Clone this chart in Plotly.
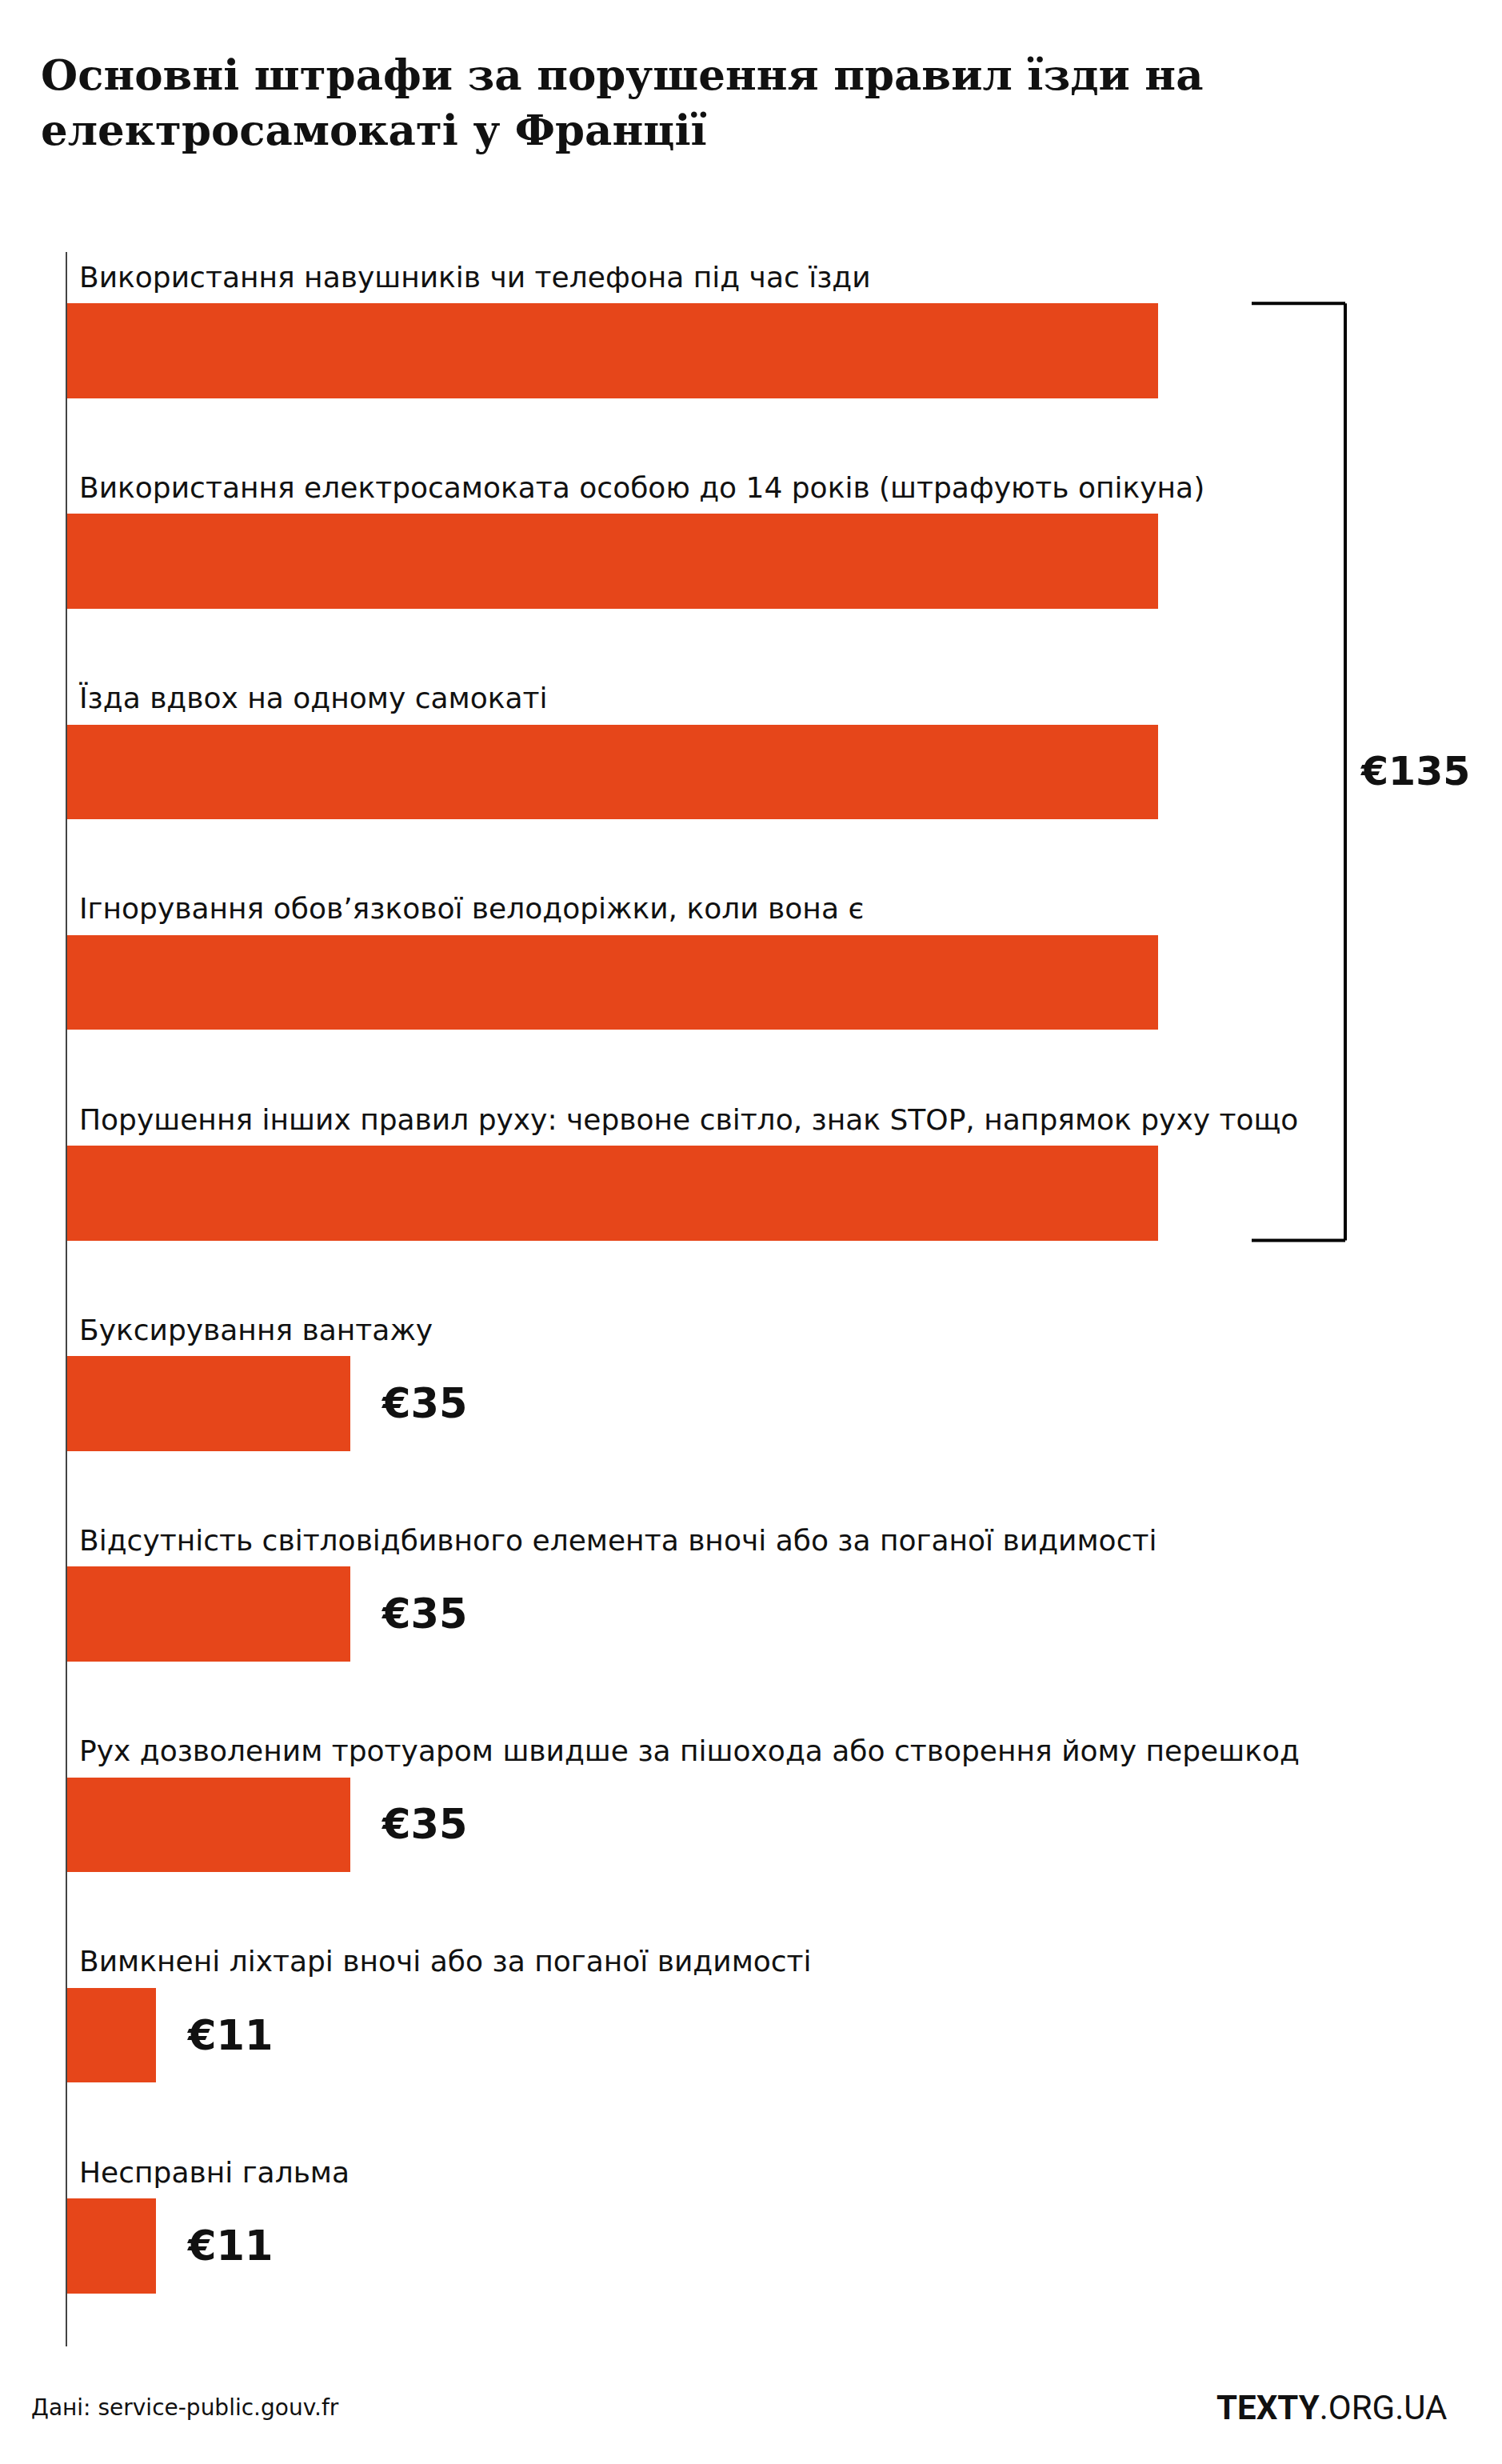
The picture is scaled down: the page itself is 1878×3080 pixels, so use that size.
import plotly.graph_objects as go

# ---------------- data ----------------
categories = [
    "Використання навушників чи телефона під час їзди",
    "Використання електросамоката особою до 14 років (штрафують опікуна)",
    "Їзда вдвох на одному самокаті",
    "Ігнорування обов’язкової велодоріжки, коли вона є",
    "Порушення інших правил руху: червоне світло, знак STOP, напрямок руху тощо",
    "Буксирування вантажу",
    "Відсутність світловідбивного елемента вночі або за поганої видимості",
    "Рух дозволеним тротуаром швидше за пішохода або створення йому перешкод",
    "Вимкнені ліхтарі вночі або за поганої видимості",
    "Несправні гальма",
]
fines = [135, 135, 135, 135, 135, 35, 35, 35, 11, 11]
group_label = "€135"          # bracketed group (first five rows)
group_rows = [0, 1, 2, 3, 4]
single_labels = ["", "", "", "", "", "€35", "€35", "€35", "€11", "€11"]

title_text = "<b>Основні штрафи за порушення правил їзди на<br>електросамокаті у Франції</b>"
source_text = "Дані: service-public.gouv.fr"

# ---------------- style ----------------
W, H = 1878, 3080
BAR_COLOR = "#E6461A"
TEXT_COLOR = "#111111"
LABEL_FONT = "DejaVu Sans"
VALUE_FONT = "DejaVu Sans"
BAR_WIDTH = 0.45
M_L, M_R, M_T, M_B = 84, 0, 315, 147
PX_PER_MAX = 1364  # pixel length of the longest bar

plot_w = W - M_L - M_R
plot_h = H - M_T - M_B
max_val = max(fines)
x_max = max_val * plot_w / PX_PER_MAX
n = len(categories)
ys = list(range(n))

fig = go.Figure()
fig.add_trace(go.Bar(
    x=fines, y=ys, orientation="h", width=BAR_WIDTH,
    marker=dict(color=BAR_COLOR, line=dict(width=0)),
    hoverinfo="skip", showlegend=False,
))

annotations = []
for i, (cat, v, lab) in enumerate(zip(categories, fines, single_labels)):
    annotations.append(dict(
        x=0, y=i - BAR_WIDTH / 2, xref="x", yref="y",
        text=cat, showarrow=False, xanchor="left", yanchor="middle",
        xshift=13, yshift=33,
        font=dict(family=LABEL_FONT, size=36, color=TEXT_COLOR),
    ))
    if lab:
        annotations.append(dict(
            x=v, y=i, xref="x", yref="y", text="<b>" + lab + "</b>",
            showarrow=False, xanchor="left", yanchor="middle", xshift=37,
            font=dict(family=VALUE_FONT, size=51, color=TEXT_COLOR),
        ))

# bracket for the €135 group
top = min(group_rows) - BAR_WIDTH / 2
bot = max(group_rows) + BAR_WIDTH / 2
br_x0, br_x1 = 117, 234   # pixel offsets from the end of the longest bar
line = dict(color="#000000", width=4)
shapes = [
    dict(type="line", xref="x", yref="y", xsizemode="pixel", xanchor=max_val,
         x0=br_x0, x1=br_x1, y0=top, y1=top, line=line),
    dict(type="line", xref="x", yref="y", xsizemode="pixel", xanchor=max_val,
         x0=br_x1, x1=br_x1, y0=top, y1=bot, line=line),
    dict(type="line", xref="x", yref="y", xsizemode="pixel", xanchor=max_val,
         x0=br_x0, x1=br_x1, y0=bot, y1=bot, line=line),
]
annotations.append(dict(
    x=max_val, y=sum(group_rows) / len(group_rows), xref="x", yref="y",
    text="<b>" + group_label + "</b>", showarrow=False,
    xanchor="left", yanchor="middle", xshift=br_x1 + 17,
    font=dict(family=VALUE_FONT, size=49, color=TEXT_COLOR),
))

# footer (pixel positions converted to plot-paper coordinates)
def px_to_paper(px, py):
    return (px - M_L) / plot_w, (H - py - M_B) / plot_h

fx, fy = px_to_paper(37, 3010)
annotations.append(dict(
    x=fx, y=fy, xref="paper", yref="paper",
    text=source_text, showarrow=False, xanchor="left", yanchor="middle",
    font=dict(family=LABEL_FONT, size=28, color=TEXT_COLOR),
))
lx, ly = px_to_paper(1811, 3010)
annotations.append(dict(
    x=lx, y=ly, xref="paper", yref="paper",
    text="<b>TEXTY</b>.ORG.UA", showarrow=False, xanchor="right", yanchor="middle",
    font=dict(family="Roboto", size=42, color=TEXT_COLOR),
))

pitch = 263.2
y_top = -(438.5 - M_T) / pitch
y_bot = y_top + plot_h / pitch

fig.update_layout(
    width=W, height=H, autosize=False,
    margin=dict(l=M_L, r=M_R, t=M_T, b=M_B, pad=0),
    paper_bgcolor="white", plot_bgcolor="white",
    title=dict(text=title_text, xref="container", yref="container",
               x=51 / W, xanchor="left", y=1 - 112 / H, yanchor="top",
               font=dict(family="DejaVu Serif", size=53, color=TEXT_COLOR)),
    xaxis=dict(range=[0, x_max], visible=False, fixedrange=True),
    yaxis=dict(range=[y_bot, y_top], showline=True, linecolor="#444444",
               linewidth=2, showgrid=False, zeroline=False,
               showticklabels=False, ticks="", fixedrange=True),
    annotations=annotations, shapes=shapes, bargap=0,
)

fig.write_html("out.html")
